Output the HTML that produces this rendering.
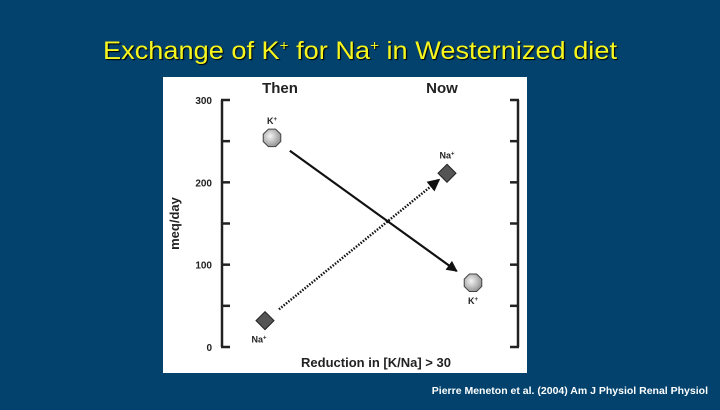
<!DOCTYPE html>
<html><head><meta charset="utf-8"><style>
body{margin:0;width:720px;height:405px;background:#02426d;overflow:hidden;font-family:"Liberation Sans",sans-serif}
</style></head><body>
<svg width="720" height="405">
<text x="360" y="59" text-anchor="middle" fill="#f6f61e" font-size="25" textLength="514" lengthAdjust="spacingAndGlyphs" style="text-shadow:1px 1px 1px #000">Exchange of K<tspan dy="-9" font-size="14">+</tspan><tspan dy="9"> for Na</tspan><tspan dy="-9" font-size="14">+</tspan><tspan dy="9"> in Westernized diet</tspan></text>
<rect x="163" y="77" width="364" height="296" fill="#fff"/>
<g id="chart" font-weight="bold" fill="#222"></g>
<text x="708" y="394" text-anchor="end" fill="#fff" font-size="10.5" font-weight="bold">Pierre Meneton et al. (2004) Am J Physiol Renal Physiol</text>
</svg>
<script>
const yTicks=[0,100,200,300];
const minorTicks=[0,50,100,150,200,250,300];
const kValues=[254,78];
const naValues=[32,211];
const kX=[272,473];
const naX=[265,447];
const NS='http://www.w3.org/2000/svg';
const g=document.getElementById('chart');
const y=v=>347-v*247/300;
function el(t,a,txt){const e=document.createElementNS(NS,t);for(const k in a)e.setAttribute(k,a[k]);if(txt!=null)e.textContent=txt;g.appendChild(e);return e;}
let e;
e=el('path',{d:`M222 ${y(300)} V${y(0)}`,stroke:'#222','stroke-width':2.5,fill:'none'});

e=el('path',{d:`M518 ${y(300)} V${y(0)}`,stroke:'#222','stroke-width':2.5,fill:'none'});

minorTicks.forEach(v=>{
 e=el('line',{x1:221,x2:230,y1:y(v),y2:y(v),stroke:'#222','stroke-width':2.5});
 
 e=el('line',{x1:510,x2:519,y1:y(v),y2:y(v),stroke:'#222','stroke-width':2.5});
 
});
yTicks.forEach(v=>{
 e=el('text',{x:212,y:y(v)+4,'text-anchor':'end','font-size':10},String(v));
 
});
e=el('text',{x:0,y:0,'font-size':13,transform:`translate(179,${y(150)}) rotate(-90)`,'text-anchor':'middle'},'meq/day');

e=el('text',{x:280,y:93,'font-size':15,'text-anchor':'middle'},'Then');

e=el('text',{x:442,y:93,'font-size':15,'text-anchor':'middle'},'Now');

e=el('text',{x:376,y:367,'font-size':13,'text-anchor':'middle',fill:'#222'},'Reduction in [K/Na] > 30');

el('defs',{}).innerHTML='<marker id="ah" viewBox="0 0 10 10" refX="9" refY="5" markerWidth="5" markerHeight="5" orient="auto"><path d="M0 0L10 5L0 10z" fill="#111"/></marker>';
function trim(x1,y1,x2,y2,a,b){const dx=x2-x1,dy=y2-y1,l=Math.hypot(dx,dy);return [x1+dx*a/l,y1+dy*a/l,x2-dx*b/l,y2-dy*b/l];}
let p=trim(kX[0],y(kValues[0]),kX[1],y(kValues[1]),22,20);
e=el('line',{x1:p[0],y1:p[1],x2:p[2],y2:p[3],stroke:'#111','stroke-width':2.2,'marker-end':'url(#ah)'});

p=trim(naX[0],y(naValues[0]),naX[1],y(naValues[1]),18,10);
e=el('line',{x1:p[0],y1:p[1],x2:p[2],y2:p[3],stroke:'#111','stroke-width':2.5,'stroke-dasharray':'1.5 1.5','marker-end':'url(#ah)'});

el('defs',{}).innerHTML='<radialGradient id="rg" cx="0.4" cy="0.4" r="0.7"><stop offset="0" stop-color="#f4f4f4"/><stop offset="1" stop-color="#888"/></radialGradient>';
function oct(cx,cy,r){let s='';for(let i=0;i<8;i++){const a=Math.PI/8+i*Math.PI/4;s+=(cx+r*Math.cos(a))+','+(cy+r*Math.sin(a))+' ';}return s;}
kValues.forEach((v,i)=>{
 e=el('polygon',{points:oct(kX[i],y(v),9.5),fill:'url(#rg)',stroke:'#444','stroke-width':1});
 
 e=el('text',{x:kX[i],y:i==0?y(v)-14:y(v)+21,'font-size':9,'text-anchor':'middle'});
 e.innerHTML='K<tspan dy="-3" font-size="6">+</tspan>';
 
});
naValues.forEach((v,i)=>{
 const cx=naX[i],cy=y(v),r=9;
 e=el('polygon',{points:`${cx},${cy-r} ${cx+r},${cy} ${cx},${cy+r} ${cx-r},${cy}`,fill:'#555',stroke:'#222','stroke-width':1});
 
 e=el('text',{x:cx-(i==0?6:0),y:i==0?cy+22:cy-15,'font-size':9,'text-anchor':'middle'});
 e.innerHTML='Na<tspan dy="-3" font-size="6">+</tspan>';
 
});
</script>
</body></html>
